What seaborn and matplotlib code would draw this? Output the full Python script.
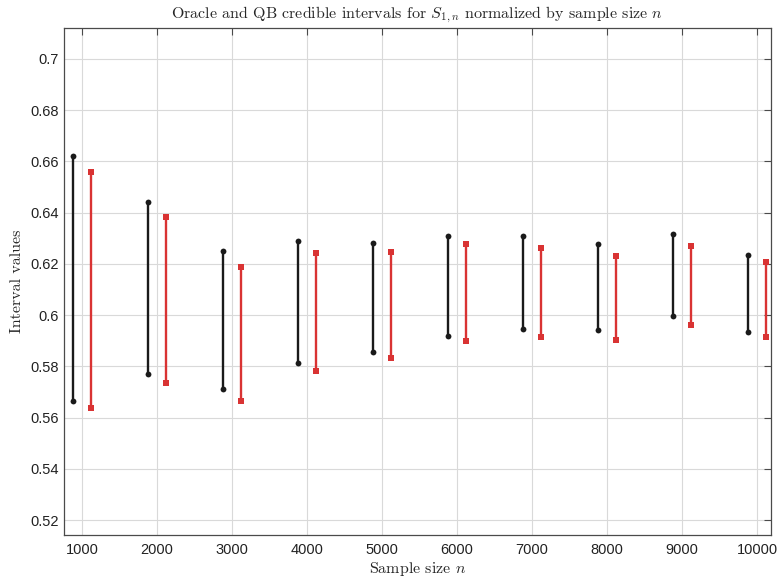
import pandas as pd
import seaborn as sns
import matplotlib.pyplot as plt
from matplotlib.ticker import FuncFormatter

# ==============================================================================
# DATA
# ==============================================================================
sample_sizes = [1000, 2000, 3000, 4000, 5000, 6000, 7000, 8000, 9000, 10000]

oracle_lower = [0.5667, 0.5770, 0.5710, 0.5813, 0.5857, 0.5918, 0.5947, 0.5942, 0.5998, 0.5933]
oracle_upper = [0.6621, 0.6440, 0.6251, 0.6288, 0.6283, 0.6308, 0.6310, 0.6278, 0.6317, 0.6234]

qb_lower = [0.5639, 0.5737, 0.5666, 0.5784, 0.5834, 0.5899, 0.5914, 0.5904, 0.5963, 0.5914]
qb_upper = [0.6557, 0.6384, 0.6190, 0.6244, 0.6247, 0.6277, 0.6264, 0.6231, 0.6270, 0.6206]

x_ticks = [1000, 2000, 3000, 4000, 5000, 6000, 7000, 8000, 9000, 10000]
y_ticks = [0.52, 0.54, 0.56, 0.58, 0.60, 0.62, 0.64, 0.66, 0.68, 0.70]

# ==============================================================================
# LONG TABLE FOR SEABORN
# ==============================================================================
OFFSET = 120  # horizontal dodge between the two methods
registros = []
for metodo, desloc, lows, highs in [("Oracle", -OFFSET, oracle_lower, oracle_upper),
                                     ("QB", OFFSET, qb_lower, qb_upper)]:
    for n, lo, hi in zip(sample_sizes, lows, highs):
        registros.append({"n": n, "method": metodo, "x": n + desloc, "value": lo})
        registros.append({"n": n, "method": metodo, "x": n + desloc, "value": hi})
df = pd.DataFrame(registros)

# ==============================================================================
# PLOT
# ==============================================================================
sns.set_style("white")
plt.rcParams["mathtext.fontset"] = "cm"
plt.rcParams["font.family"] = ["Liberation Sans", "DejaVu Sans"]

fig = plt.figure(figsize=(7.77, 5.79), dpi=100)
ax = fig.add_axes([64 / 777, 1 - 535 / 579, (771 - 64) / 777, (535 - 28) / 579])

sns.lineplot(
    data=df, x="x", y="value",
    hue="method", style="method", units="n",
    estimator=None, sort=False,
    palette={"Oracle": "#1a1a1a", "QB": "#d93333"},
    markers={"Oracle": "o", "QB": "s"}, dashes=False,
    lw=1.7, markersize=4.2, markeredgewidth=0,
    legend=False, ax=ax,
)

ax.set_xlim(760, 10187)
ax.set_ylim(0.5142, 0.7121)
ax.set_xticks(x_ticks)
ax.set_yticks(y_ticks)
ax.yaxis.set_major_formatter(FuncFormatter(lambda v, _: f"{v:g}"))

ax.grid(True, color="#d9d9d9", lw=0.8)
ax.set_axisbelow(True)
for sp in ax.spines.values():
    sp.set_visible(True)
    sp.set_color("#4a4a4a")
    sp.set_linewidth(0.9)
ax.tick_params(direction="in", top=True, right=True, length=5, width=0.8,
               color="#4a4a4a", labelsize=10.5, labelcolor="#222222")
ax.tick_params(axis="x", pad=6)
ax.tick_params(axis="y", pad=4)

ax.set_title(r"Oracle and QB credible intervals for $S_{1,n}$ normalized by sample size $n$",
             fontfamily="cmr10", fontsize=11.5, pad=7)
ax.set_xlabel(r"Sample size $n$", fontfamily="cmr10", fontsize=11.5, labelpad=2)
ax.set_ylabel("Interval values", fontfamily="cmr10", fontsize=11.5, labelpad=4)

fig.savefig("out.png", dpi=100)
